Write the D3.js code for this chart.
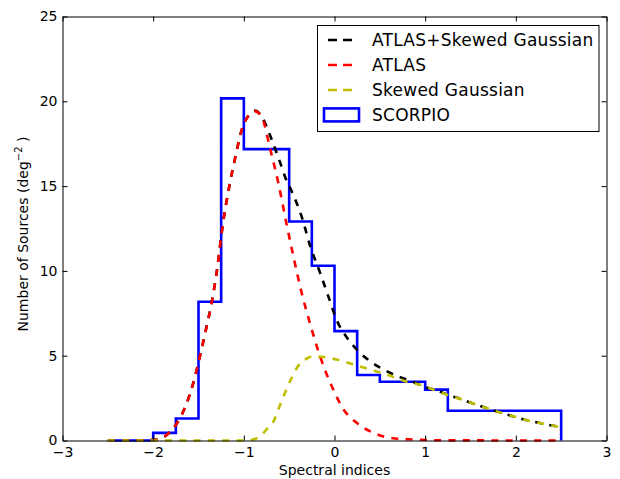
<!DOCTYPE html>
<html>
<head>
<meta charset="utf-8">
<script src="https://cdn.jsdelivr.net/npm/d3@7"></script>
<style>
  body { margin: 0; background: #fff; }
  svg { display: block; font-family: "DejaVu Sans", sans-serif; }
  .axis path, .axis line { stroke: #000; stroke-width: 1; }
  .axis text { font-size: 14px; fill: #000; font-family: "DejaVu Sans", sans-serif; }
</style>
</head>
<body>
<div class="spectral_chart"></div>
<script>
// SCORPIO histogram: left bin edges (width 0.25) and heights
const binEdges = [-2.5, -2.25, -2.0, -1.75, -1.5, -1.25, -1.0, -0.75, -0.5, -0.25,
                  0, 0.25, 0.5, 0.75, 1.0, 1.25, 1.5, 1.75, 2.0, 2.25];
const binValues = [0, 0, 0.45, 1.3, 8.18, 20.17, 17.18, 17.18, 12.91, 10.3,
                   6.45, 3.86, 3.46, 3.46, 3.0, 1.75, 1.75, 1.75, 1.75, 1.75];
const binEnd = 2.5;

// ATLAS curve
const atlasX = [-2.5, -2.2, -2.0, -1.9, -1.85, -1.74, -1.63, -1.557, -1.484, -1.41, -1.355,
                -1.3, -1.23, -1.16, -1.098, -1.024, -0.95, -0.88, -0.8, -0.71, -0.62, -0.53,
                -0.455, -0.362, -0.27, -0.16, -0.03, 0.1, 0.245, 0.43, 0.61, 0.87, 1.2, 2.5];
const atlasY = [0, 0, 0.03, 0.15, 0.33, 1.0, 2.2, 3.4, 4.97, 6.74, 8.12,
                9.9, 12.8, 15.0, 16.6, 18.3, 19.15, 19.42, 19.05, 17.2, 15.2, 12.8,
                10.9, 8.7, 6.9, 4.97, 3.2, 1.83, 1.04, 0.45, 0.16, 0.06, 0.01, 0];

// Skewed Gaussian curve
const skewX = [-2.5, -1.0, -0.9, -0.8, -0.75, -0.675, -0.6, -0.49, -0.4, -0.3, -0.23, -0.1,
               0.02, 0.2, 0.39, 0.575, 0.83, 0.95, 1.09, 1.255, 1.4, 1.55, 1.7, 1.84,
               2.0, 2.16, 2.32, 2.47, 2.5];
const skewY = [0, 0, 0.06, 0.35, 0.65, 1.1, 2.1, 3.5, 4.4, 4.85, 4.97, 4.9,
               4.78, 4.5, 4.19, 3.89, 3.42, 3.28, 3.0, 2.67, 2.42, 2.14, 1.87, 1.63,
               1.38, 1.15, 0.97, 0.81, 0.78];

// ATLAS + Skewed Gaussian curve
const sumX = [-2.5, -2.2, -2.0, -1.9, -1.85, -1.74, -1.63, -1.557, -1.484, -1.41, -1.355,
              -1.3, -1.23, -1.16, -1.098, -1.024, -0.95, -0.88, -0.8, -0.767, -0.693, -0.6,
              -0.527, -0.472, -0.417, -0.362, -0.27, -0.16, -0.068, 0.024, 0.152, 0.262,
              0.391, 0.538, 0.686, 0.87, 1.017, 1.09, 1.255, 1.4, 1.55, 1.7, 1.84, 2.0,
              2.16, 2.32, 2.47, 2.5];
const sumY = [0, 0, 0.03, 0.15, 0.33, 1.0, 2.2, 3.4, 4.97, 6.74, 8.12,
              9.9, 12.8, 15.0, 16.6, 18.3, 19.15, 19.45, 19.1, 18.73, 17.75, 16.4,
              15.3, 14.7, 14.0, 13.2, 11.5, 9.9, 8.5, 7.1, 5.96, 5.27,
              4.68, 4.19, 3.82, 3.45, 3.12, 3.02, 2.68, 2.43, 2.14, 1.87, 1.63, 1.38,
              1.15, 0.97, 0.81, 0.78];

const xTicks = [-3, -2, -1, 0, 1, 2, 3];
const yTicks = [0, 5, 10, 15, 20, 25];

const legendNames = ["ATLAS+Skewed Gaussian", "ATLAS", "Skewed Gaussian", "SCORPIO"];
const legendColors = ["#000000", "#ff0000", "#bfbf00", "#0000ff"];

const W = 620, H = 479;
const margin = { top: 16.5, right: 13.5, bottom: 38.5, left: 62.5 };
const width = W - margin.left - margin.right;
const height = H - margin.top - margin.bottom;

const root = d3.select(".spectral_chart")
  .append("svg")
  .attr("width", W)
  .attr("height", H);

const svg = root.append("g")
  .attr("transform", `translate(${margin.left},${margin.top})`);

const x = d3.scaleLinear().domain([-3, 3]).range([0, width]);
const y = d3.scaleLinear().domain([0, 25]).range([height, 0]);

// histogram outline (step)
const histPts = binEdges.map((e, i) => [e, binValues[i]]);
histPts.push([binEnd, binValues[binValues.length - 1]]);
histPts.push([binEnd, 0]);

const step = d3.line()
  .x((d) => x(d[0]))
  .y((d) => y(d[1]))
  .curve(d3.curveStepAfter);

svg.append("path")
  .datum(histPts)
  .attr("d", step)
  .attr("fill", "none")
  .attr("stroke", "#0000ff")
  .attr("stroke-width", 2.6)
  .attr("stroke-linejoin", "miter");

const smooth = d3.line()
  .x((d) => x(d[0]))
  .y((d) => y(d[1]))
  .curve(d3.curveMonotoneX);

function curve(xs, ys, color) {
  svg.append("path")
    .datum(xs.map((v, i) => [v, ys[i]]))
    .attr("d", smooth)
    .attr("fill", "none")
    .attr("stroke", color)
    .attr("stroke-width", 2.6)
    .attr("stroke-dasharray", "7,7.3");
}

curve(sumX, sumY, legendColors[0]);
curve(atlasX, atlasY, legendColors[1]);
curve(skewX, skewY, legendColors[2]);

// axes, ticks pointing inward on all four sides
const fmt = d3.format("d");

svg.append("g")
  .attr("class", "axis")
  .attr("transform", `translate(0,${height})`)
  .call(d3.axisBottom(x).tickValues(xTicks).tickFormat(fmt).tickSize(-5).tickSizeOuter(0).tickPadding(6.5));

svg.append("g")
  .attr("class", "axis")
  .call(d3.axisTop(x).tickValues(xTicks).tickSize(-5).tickSizeOuter(0).tickFormat(""));

svg.append("g")
  .attr("class", "axis")
  .call(d3.axisLeft(y).tickValues(yTicks).tickFormat(fmt).tickSize(-5).tickSizeOuter(0).tickPadding(5));

svg.append("g")
  .attr("class", "axis")
  .attr("transform", `translate(${width},0)`)
  .call(d3.axisRight(y).tickValues(yTicks).tickSize(-5).tickSizeOuter(0).tickFormat(""));

// axis labels
root.append("text")
  .attr("x", margin.left + width / 2)
  .attr("y", 475)
  .attr("text-anchor", "middle")
  .attr("font-size", 14)
  .text("Spectral indices");

const yl = root.append("text")
  .attr("transform", "translate(27.5,234) rotate(-90)")
  .attr("text-anchor", "middle")
  .attr("font-size", 14);
yl.append("tspan").text("Number of Sources (deg");
yl.append("tspan").attr("dy", -6).attr("font-size", 10).text("\u22122");
yl.append("tspan").attr("dy", 6).text(" )");

// legend
const lg = root.append("g");
lg.append("rect")
  .attr("x", 317.5)
  .attr("y", 25.5)
  .attr("width", 281.5)
  .attr("height", 106)
  .attr("fill", "#fff")
  .attr("stroke", "#000")
  .attr("stroke-width", 1);

legendNames.forEach((name, i) => {
  const base = 45.7 + i * 25;
  if (i < 3) {
    lg.append("line")
      .attr("x1", 328).attr("x2", 352)
      .attr("y1", base - 5.7).attr("y2", base - 5.7)
      .attr("stroke", legendColors[i])
      .attr("stroke-width", 2.6)
      .attr("stroke-dasharray", "9,6");
  } else {
    lg.append("rect")
      .attr("x", 324).attr("y", base - 12.3)
      .attr("width", 35).attr("height", 13)
      .attr("fill", "none")
      .attr("stroke", legendColors[i])
      .attr("stroke-width", 2.6);
  }
  lg.append("text")
    .attr("x", 372)
    .attr("y", base)
    .attr("font-size", 17)
    .attr("letter-spacing", 0.25)
    .text(name);
});
</script>
</body>
</html>
